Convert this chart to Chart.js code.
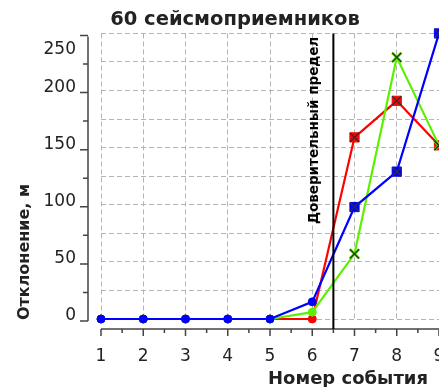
<!DOCTYPE html>
<html lang="ru">
<head>
  <meta charset="UTF-8">
  <title>60 сейсмоприемников</title>
  <style>
    body {
      margin: 0;
      overflow: hidden;
      background: #fff;
    }
  </style>
</head>
<body>
  <canvas id="chart" width="470" height="387"></canvas>

  <script src="https://cdn.jsdelivr.net/npm/chart.js"></script>
  <script>
    // данные
    const events = [1, 2, 3, 4, 5, 6, 7, 8, 9];
    const redValues = [0, 0, 0, 0, 0, 0, 159, 191, 152];
    const greenValues = [0, 0, 0, 0, 0, 6, 57, 229, 152];
    const blueValues = [0, 0, 0, 0, 0, 15, 98, 129, 250];
    const yTickLabels = [0, 50, 100, 150, 200, 250];
    const limitEvent = 6.5;
    const limitLabel = 'Доверительный предел';

    const FONT = 'DejaVu Sans';
    const RED = '#ff0000';
    const GREEN = '#5cf000';
    const BLUE = '#0000ff';

    function points(values, from) {
      return events.map((e, i) => ({ x: e, y: i >= from ? values[i] : null }));
    }

    function series(label, values, color, bigStyle, order) {
      return {
        label: label,
        data: points(values, 0),
        borderColor: color,
        backgroundColor: color,
        borderWidth: 2.2,
        pointStyle: ctx => ctx.dataIndex < 6 ? 'circle' : bigStyle,
        pointRadius: ctx => ctx.dataIndex < 6 ? 4 : 6.5,
        pointBorderWidth: ctx => (ctx.dataIndex >= 6 && bigStyle === 'crossRot') ? 3 : 1,
        pointHoverRadius: 0,
        clip: false,
        order: order
      };
    }

    function crosses(values, order) {
      return {
        label: 'x',
        data: points(values, 6),
        showLine: false,
        pointStyle: 'crossRot',
        pointRadius: 6.5,
        borderColor: '#303030',
        backgroundColor: '#303030',
        pointBorderWidth: 1.3,
        clip: false,
        order: order
      };
    }

    // оси, предел и подписи рисуются поверх по шкалам Chart.js
    const axesPlugin = {
      id: 'axesPlugin',
      afterDatasetsDraw(chart) {
        const ctx = chart.ctx;
        const xs = chart.scales.x;
        const ys = chart.scales.y;
        const area = chart.chartArea;
        const axisX = area.left - 13;
        const axisY = area.bottom + 10;

        ctx.save();
        ctx.strokeStyle = '#444';
        ctx.lineWidth = 1.5;

        // ось Y
        ctx.beginPath();
        ctx.moveTo(axisX, ys.getPixelForValue(250) + 3);
        ctx.lineTo(axisX, ys.getPixelForValue(0) + 2);
        for (let v = 0; v <= 250; v += 25) {
          const y = ys.getPixelForValue(v) + 2;
          ctx.moveTo(axisX - (v % 50 === 0 ? 8 : 5), y);
          ctx.lineTo(axisX, y);
        }
        ctx.stroke();

        ctx.fillStyle = '#222';
        ctx.font = '17px ' + FONT;
        ctx.textAlign = 'right';
        ctx.textBaseline = 'middle';
        yTickLabels.forEach(v => {
          const y = Math.max(ys.getPixelForValue(v) - 3, area.top + 16);
          ctx.fillText(String(v), axisX - 12, y);
        });

        // ось X
        ctx.beginPath();
        ctx.moveTo(xs.getPixelForValue(1), axisY);
        ctx.lineTo(chart.width, axisY);
        for (let v = 1; v <= 9.5; v += 0.5) {
          const x = xs.getPixelForValue(v);
          ctx.moveTo(x, axisY);
          ctx.lineTo(x, axisY + (Number.isInteger(v) ? 7 : 4));
        }
        ctx.stroke();

        ctx.textAlign = 'center';
        events.forEach(e => {
          ctx.fillText(String(e), xs.getPixelForValue(e), axisY + 28);
        });

        // доверительный предел
        const lx = xs.getPixelForValue(limitEvent);
        ctx.strokeStyle = '#000';
        ctx.lineWidth = 2;
        ctx.beginPath();
        ctx.moveTo(lx, area.top);
        ctx.lineTo(lx, axisY);
        ctx.stroke();

        ctx.fillStyle = '#000';
        ctx.font = 'bold 13.5px ' + FONT;
        ctx.save();
        ctx.translate(lx - 19, area.top + 97);
        ctx.rotate(-Math.PI / 2);
        ctx.fillText(limitLabel, 0, 0);
        ctx.restore();

        // подписи осей
        ctx.fillStyle = '#222';
        ctx.font = 'bold 16px ' + FONT;
        ctx.save();
        ctx.translate(25, 252);
        ctx.rotate(-Math.PI / 2);
        ctx.fillText('Отклонение, м', 0, 0);
        ctx.restore();

        ctx.font = 'bold 18px ' + FONT;
        ctx.fillText('Номер события', 348, 379);
        ctx.restore();
      }
    };

    const fixedSize = size => scale => {
      if (scale.isHorizontal()) scale.height = size; else scale.width = size;
    };

    new Chart(document.getElementById('chart'), {
      type: 'line',
      data: {
        datasets: [
          crosses(blueValues, 0),
          crosses(redValues, 0),
          crosses(greenValues, 0),
          series('Синий', blueValues, BLUE, 'rect', 1),
          series('Зелёный', greenValues, GREEN, 'crossRot', 2),
          series('Красный', redValues, RED, 'rect', 3)
        ]
      },
      options: {
        responsive: false,
        animation: false,
        devicePixelRatio: 1,
        layout: { padding: 0 },
        plugins: {
          legend: { display: false },
          tooltip: { enabled: false },
          title: {
            display: true,
            text: '60 сейсмоприемников',
            color: '#222',
            font: { family: FONT, size: 19.5, weight: 'bold' },
            padding: { top: 8, bottom: 2 }
          }
        },
        scales: {
          x: {
            type: 'linear',
            min: 1,
            max: 9,
            afterFit: fixedSize(68),
            ticks: { display: false, stepSize: 1 },
            grid: { color: '#b4b4b4', drawTicks: false },
            border: { display: false, dash: [5, 3] }
          },
          y: {
            min: 0,
            max: 250,
            afterFit: fixedSize(101),
            ticks: { display: false, stepSize: 25 },
            grid: { color: '#b4b4b4', drawTicks: false },
            border: { display: false, dash: [5, 3] }
          },
          yRight: {
            position: 'right',
            display: true,
            afterFit: fixedSize(31),
            ticks: { display: false },
            grid: { display: false },
            border: { display: false }
          }
        }
      },
      plugins: [axesPlugin]
    });
  </script>
</body>
</html>
